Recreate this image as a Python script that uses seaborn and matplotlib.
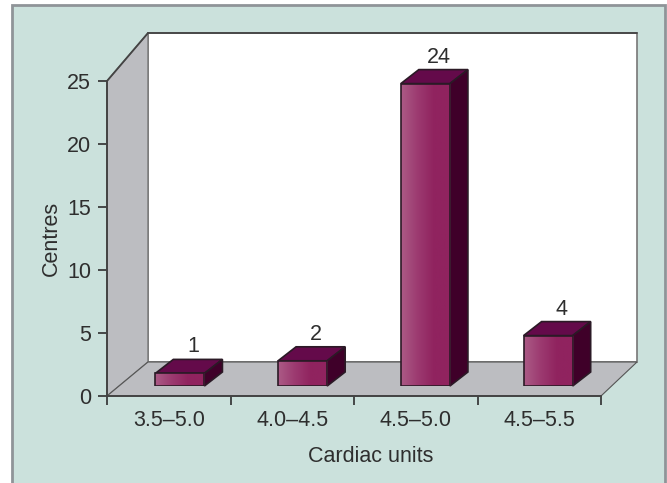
"""Centres by cardiac units, drawn as a pseudo-3D bar chart with seaborn."""
import matplotlib
matplotlib.use("Agg")
import matplotlib.pyplot as plt
import numpy as np
import seaborn as sns
from matplotlib.colors import LinearSegmentedColormap
from matplotlib.patches import Polygon, Rectangle

categories = ["3.5–5.0", "4.0–4.5", "4.5–5.0", "4.5–5.5"]
centres = [1, 2, 24, 4]
y_ticks = [0, 5, 10, 15, 20, 25]

W, H = 667, 483
PANEL = "#cbe1dc"
WALL = "#bcbdc1"
INK = "#2e2e2e"
SIDE = "#3f0029"
TOP = "#640a4a"
FONT = 15.5
FRONT = LinearSegmentedColormap.from_list(
    "front", ["#ab5a86", "#9c3a70", "#90235f", "#90235f"]
)

# front plane of the box, in pixels from the top left
X0, X1, Y0, Y25 = 107, 601, 396, 81
BACK_X, BACK_TOP, BACK_FLOOR = 41, 33, 362
BAR_DX, BAR_DY = 11.5, 10  # bars stand slightly inside the floor
DEPTH_X, DEPTH_Y = 18, 14

sns.set_theme(style="white")
plt.rcParams["font.family"] = ["Liberation Sans", "DejaVu Sans"]
plt.rcParams["font.size"] = FONT


def px(x, y):
    return x / W, 1 - y / H


def add_poly(fig, pts, **kw):
    # zorder below the axes, figure artists would cover them otherwise
    fig.add_artist(Polygon([px(*p) for p in pts], closed=True,
                           transform=fig.transFigure, zorder=-1, **kw))


def main():
    fig = plt.figure(figsize=(W / 100, H / 100), dpi=100, facecolor="white")

    # panel with its thin grey frame on top, left and right
    fig.add_artist(Rectangle(px(12, 490), 653 / W, 485 / H, transform=fig.transFigure,
                             facecolor=PANEL, edgecolor="#8f9498", linewidth=2, zorder=-2))

    # box: back wall, side wall and floor
    bx, tx = X0 + BACK_X, X1 + 36
    add_poly(fig, [(bx, BACK_TOP), (tx, BACK_TOP), (tx, BACK_FLOOR), (bx, BACK_FLOOR)],
             facecolor="white", edgecolor="#777777", linewidth=1.2)
    add_poly(fig, [(X0, Y25), (bx, BACK_TOP), (bx, BACK_FLOOR), (X0, Y0)],
             facecolor=WALL, edgecolor="#777777", linewidth=1.0)
    add_poly(fig, [(X0, Y0), (bx, BACK_FLOOR), (tx, BACK_FLOOR), (X1, Y0)],
             facecolor=WALL, edgecolor="#555555", linewidth=0.8)
    fig.add_artist(plt.Line2D(*zip(px(X0, Y25), px(bx, BACK_TOP)), color="#444444", lw=1.3, zorder=-1))
    fig.add_artist(plt.Line2D(*zip(px(bx, BACK_TOP), px(tx, BACK_TOP)), color="#444444", lw=1.3, zorder=-1))

    # axes on the front plane carry the scales and the labels
    ax = fig.add_axes([X0 / W, 1 - Y0 / H, (X1 - X0) / W, (Y0 - Y25) / H])
    ax.patch.set_visible(False)
    ax.set_xlim(0, 4)
    ax.set_ylim(0, 25)
    ax.set_yticks(y_ticks)
    ax.set_xticks(range(5))
    ax.set_xticklabels([])
    ax.set_xticks(np.arange(4) + 0.5, categories, minor=True)
    ax.tick_params(axis="x", which="major", length=6.5, width=1.2, color=INK, bottom=True)
    ax.tick_params(axis="x", which="minor", length=0, pad=10, labelsize=FONT, labelcolor=INK)
    ax.tick_params(axis="y", length=6.5, width=1.2, color=INK, left=True, pad=5,
                   labelsize=FONT, labelcolor=INK)
    for name, spine in ax.spines.items():
        spine.set_visible(name in ("left", "bottom"))
        spine.set_color("#444444")
        spine.set_linewidth(1.4)
    # the x label sits right of the axis centre in the original
    ax.set_xlabel("Cardiac units", fontsize=FONT, color=INK, labelpad=11, x=0.534)
    ax.set_ylabel("Centres", fontsize=FONT, color=INK, labelpad=3.5)

    # bars on a second axes, same scale, shifted onto the floor
    bar_ax = fig.add_axes([(X0 + BAR_DX) / W, 1 - (Y0 - BAR_DY) / H,
                           (X1 - X0 - 3) / W, (Y0 - Y25) / H])
    bar_ax.patch.set_visible(False)
    sns.barplot(x=categories, y=centres, ax=bar_ax, width=0.4, color="#90235f",
                edgecolor="#2b1a26", linewidth=1.2, zorder=4)
    bar_ax.set_xlim(-0.5, 3.5)
    bar_ax.set_ylim(0, 25)
    bar_ax.axis("off")

    gradient = np.linspace(0, 1, 64)[None, :]
    for bar, value in zip(list(bar_ax.patches), centres):
        left, right = bar.get_x(), bar.get_x() + bar.get_width()
        img = bar_ax.imshow(gradient, cmap=FRONT, extent=(left, right, 0, value),
                            aspect="auto", zorder=4.5)
        img.set_clip_path(bar)
        bar.set_facecolor("none")
        bar.set_zorder(5)

        # depth faces come from the bar's own pixel box
        bar_ax.set_xlim(-0.5, 3.5)
        bar_ax.set_ylim(0, 25)
        (x_a, y_a), (x_b, y_b) = bar_ax.transData.transform([(left, 0), (right, value)])
        dx, dy = DEPTH_X, DEPTH_Y
        edge = dict(edgecolor="#2b1a26", linewidth=1.2, transform=None, zorder=3)
        bar_ax.add_patch(Polygon([(x_a, y_b), (x_b, y_b), (x_b + dx, y_b + dy), (x_a + dx, y_b + dy)],
                                 facecolor=TOP, clip_on=False, **edge))
        bar_ax.add_patch(Polygon([(x_b, y_a), (x_b, y_b), (x_b + dx, y_b + dy), (x_b + dx, y_a + dy)],
                                 facecolor=SIDE, clip_on=False, **edge))
        fig.text(((x_a + x_b + dx) / 2 + 4) / W, (y_b + dy + 2) / H, str(value),
                 ha="center", va="bottom", fontsize=FONT, color=INK)
    bar_ax.set_xlim(-0.5, 3.5)
    bar_ax.set_ylim(0, 25)

    fig.savefig("out.png", dpi=100)


if __name__ == "__main__":
    main()
